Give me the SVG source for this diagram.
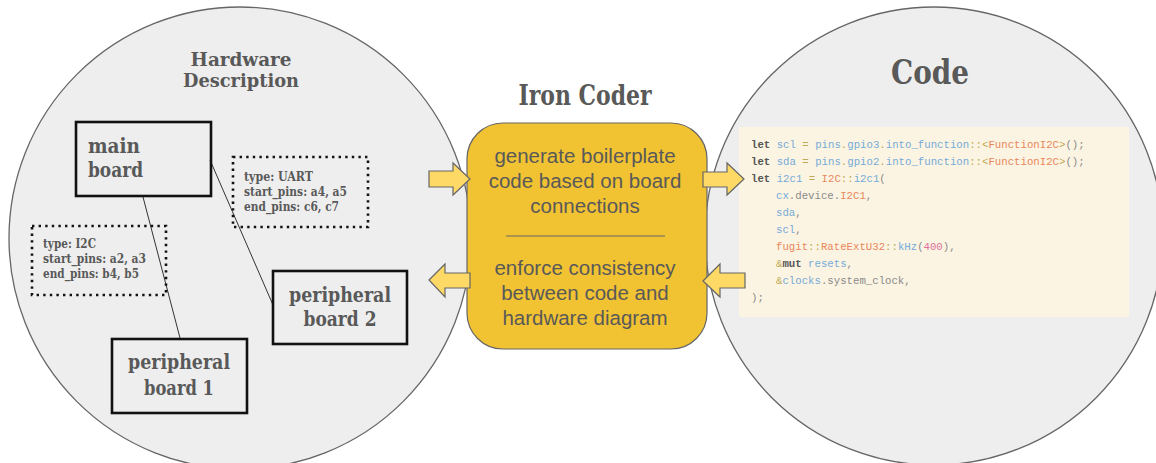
<svg xmlns="http://www.w3.org/2000/svg" width="1156" height="463" viewBox="0 0 1156 463">
  <defs>
    <style>
      .area { fill: #eeeeee; stroke: #666666; stroke-width: 1.3; }
      .slab { font-family: "DejaVu Serif Condensed", "DejaVu Serif", serif; font-weight: bold; fill: #595959; }
      .board { fill: none; stroke: #111111; stroke-width: 2.6; }
      .note { fill: none; stroke: #111111; stroke-width: 2.6; stroke-dasharray: 2.4 4.2; }
      .link { stroke: #333333; stroke-width: 1; fill: none; }
      .arrow { fill: #ffd966; stroke: #666666; stroke-width: 1.2; stroke-linejoin: miter; }
      .mid { font-family: "Liberation Sans", Arial, sans-serif; font-size: 20.5px; fill: #595959; text-anchor: middle; }
      .code { font-family: "Liberation Mono", "DejaVu Sans Mono", monospace; font-size: 10.7px; fill: #8a8a8a; }
      .k { fill: #555555; font-weight: bold; }
      .v { fill: #74abd9; }
      .p { fill: #bca953; }
      .t { fill: #e8875c; }
      .n { fill: #e2709c; }
    </style>
  </defs>

  <!-- two domain areas -->
  <circle class="area" cx="240" cy="238" r="231"/>
  <circle class="area" cx="934" cy="236" r="229"/>

  <!-- Rust code listing -->
  <g id="code-panel">
    <rect x="739" y="127" width="390" height="190" fill="#fcf4e2"/>
    <text class="code" xml:space="preserve">
      <tspan x="751" y="148"><tspan class="k">let</tspan> <tspan class="v">scl</tspan> <tspan class="p">=</tspan> <tspan class="v">pins</tspan><tspan class="p">.</tspan><tspan class="v">gpio3</tspan><tspan class="p">.</tspan><tspan class="v">into_function</tspan><tspan class="p">::&lt;</tspan><tspan class="t">FunctionI2C</tspan><tspan class="p">&gt;</tspan>();</tspan>
      <tspan x="751" y="165"><tspan class="k">let</tspan> <tspan class="v">sda</tspan> <tspan class="p">=</tspan> <tspan class="v">pins</tspan><tspan class="p">.</tspan><tspan class="v">gpio2</tspan><tspan class="p">.</tspan><tspan class="v">into_function</tspan><tspan class="p">::&lt;</tspan><tspan class="t">FunctionI2C</tspan><tspan class="p">&gt;</tspan>();</tspan>
      <tspan x="751" y="182"><tspan class="k">let</tspan> <tspan class="v">i2c1</tspan> <tspan class="p">=</tspan> <tspan class="t">I2C</tspan><tspan class="p">::</tspan><tspan class="v">i2c1</tspan>(</tspan>
      <tspan x="776" y="199"><tspan class="v">cx</tspan>.device.<tspan class="t">I2C1</tspan>,</tspan>
      <tspan x="776" y="216"><tspan class="v">sda</tspan>,</tspan>
      <tspan x="776" y="233"><tspan class="v">scl</tspan>,</tspan>
      <tspan x="776" y="250"><tspan class="t">fugit</tspan><tspan class="p">::</tspan><tspan class="t">RateExtU32</tspan><tspan class="p">::</tspan><tspan class="v">kHz</tspan>(<tspan class="n">400</tspan>),</tspan>
      <tspan x="776" y="267"><tspan class="p">&amp;</tspan><tspan class="k">mut</tspan> <tspan class="v">resets</tspan>,</tspan>
      <tspan x="776" y="284"><tspan class="p">&amp;</tspan><tspan class="v">clocks</tspan>.system_clock,</tspan>
      <tspan x="751" y="301">);</tspan>
    </text>
  </g>

  <!-- headings -->
  <text class="slab" font-size="18.5" text-anchor="middle"><tspan x="241" y="66" textLength="101" lengthAdjust="spacingAndGlyphs">Hardware</tspan><tspan x="241" y="87" textLength="116" lengthAdjust="spacingAndGlyphs">Description</tspan></text>
  <text class="slab" font-size="33" x="930" y="84" text-anchor="middle" textLength="78" lengthAdjust="spacingAndGlyphs">Code</text>
  <text class="slab" font-size="27" x="585" y="105" text-anchor="middle" textLength="133" lengthAdjust="spacingAndGlyphs">Iron Coder</text>

  <!-- board connections -->
  <g id="connectors">
    <line class="link" x1="143" y1="197" x2="180" y2="338"/>
    <line class="link" x1="210" y1="160" x2="273" y2="305"/>
  </g>

  <g id="main-board">
    <rect class="board" x="76" y="122" width="135" height="74"/>
    <text class="slab" font-size="20"><tspan x="88" y="153" textLength="52" lengthAdjust="spacingAndGlyphs">main</tspan><tspan x="88" y="177" textLength="55" lengthAdjust="spacingAndGlyphs">board</tspan></text>
  </g>

  <g id="peripheral-board-1">
    <rect class="board" x="112" y="339" width="135" height="74"/>
    <text class="slab" font-size="20" text-anchor="middle"><tspan x="179" y="369" textLength="102" lengthAdjust="spacingAndGlyphs">peripheral</tspan><tspan x="179" y="395" textLength="70" lengthAdjust="spacingAndGlyphs">board 1</tspan></text>
  </g>

  <g id="peripheral-board-2">
    <rect class="board" x="273" y="271" width="134" height="73"/>
    <text class="slab" font-size="20" text-anchor="middle"><tspan x="340" y="302" textLength="102" lengthAdjust="spacingAndGlyphs">peripheral</tspan><tspan x="340" y="326" textLength="73" lengthAdjust="spacingAndGlyphs">board 2</tspan></text>
  </g>

  <g id="uart-link">
    <rect class="note" x="233" y="157" width="135" height="70"/>
    <text class="slab" font-size="12"><tspan x="244" y="181" textLength="69" lengthAdjust="spacingAndGlyphs">type: UART</tspan><tspan x="244" y="196" textLength="103" lengthAdjust="spacingAndGlyphs">start_pins: a4, a5</tspan><tspan x="244" y="211" textLength="95" lengthAdjust="spacingAndGlyphs">end_pins: c6, c7</tspan></text>
  </g>

  <g id="i2c-link">
    <rect class="note" x="32" y="226" width="134" height="69"/>
    <text class="slab" font-size="12"><tspan x="43" y="248" textLength="53" lengthAdjust="spacingAndGlyphs">type: I2C</tspan><tspan x="43" y="263" textLength="103" lengthAdjust="spacingAndGlyphs">start_pins: a2, a3</tspan><tspan x="43" y="278" textLength="96" lengthAdjust="spacingAndGlyphs">end_pins: b4, b5</tspan></text>
  </g>

  <!-- central tool -->
  <g id="iron-coder">
    <rect x="467" y="123" width="240" height="226" rx="36" ry="36" fill="#f1c232" stroke="#666666" stroke-width="1.2"/>
    <text class="mid"><tspan x="585" y="163">generate boilerplate</tspan><tspan x="585" y="188">code based on board</tspan><tspan x="585" y="213">connections</tspan></text>
    <line x1="506" y1="236" x2="665" y2="236" stroke="#666666" stroke-width="1.2"/>
    <text class="mid"><tspan x="585" y="275">enforce consistency</tspan><tspan x="585" y="300">between code and</tspan><tspan x="585" y="325">hardware diagram</tspan></text>
  </g>

  <!-- data flow arrows -->
  <g id="flow-arrows">
    <polygon class="arrow" points="429,171 453,171 453,163 470,179 453,195 453,187 429,187"/>
    <polygon class="arrow" points="429,280 445,264 445,273 470,273 470,288 445,288 445,297"/>
    <polygon class="arrow" points="703,172 727,172 727,163 744,179 727,195 727,187 703,187"/>
    <polygon class="arrow" points="703,281 720,264 720,273 745,273 745,288 720,288 720,297"/>
  </g>
</svg>
